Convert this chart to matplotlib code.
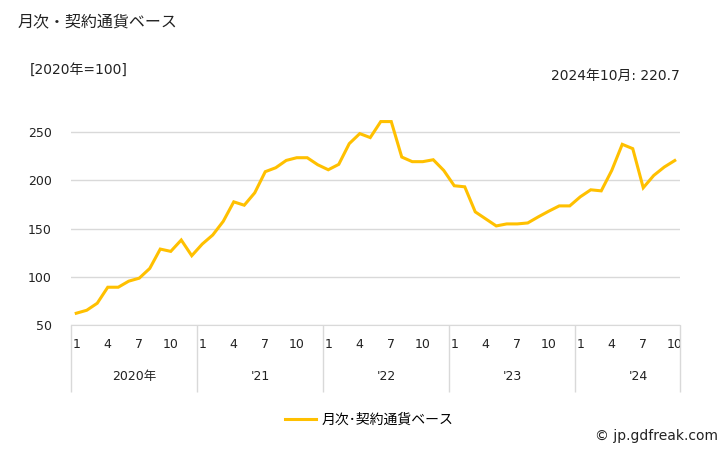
import matplotlib
matplotlib.use("Agg")
import matplotlib.pyplot as plt
import matplotlib.transforms as mtransforms

plt.rcParams['font.family'] = ['DejaVu Sans', 'Noto Sans CJK JP']

# monthly index, 2020=100 (Jan 2020 - Oct 2024)
values_2020 = [62.2, 65.3, 72.6, 89.2, 89.2, 95.5, 98.6, 108.7, 128.8, 126.4, 138.2, 121.9]
values_2021 = [134.0, 143.4, 157.6, 177.8, 174.3, 187.2, 209.1, 213.2, 220.8, 223.6, 223.6, 216.3]
values_2022 = [211.1, 216.7, 238.2, 248.6, 244.5, 261.1, 261.1, 224.3, 219.5, 219.5, 221.5, 210.4]
values_2023 = [194.5, 193.4, 167.4, 160.1, 152.8, 154.9, 154.9, 155.9, 162.2, 168.1, 173.6, 173.6]
values_2024 = [183.0, 190.3, 189.2, 210.4, 237.5, 233.0, 192.4, 205.2, 213.9, 220.7]

year_labels = ["2020年", "'21", "'22", "'23", "'24"]
month_labels = ["1", "4", "7", "10"]
yticks = [50, 100, 150, 200, 250]

series_name = "月次･契約通貨ベース"
title = "月次・契約通貨ベース"
unit_note = "[2020年=100]"
latest_note = "2024年10月: 220.7"

years = [values_2020, values_2021, values_2022, values_2023, values_2024]
values = []
for yv in years:
    values += yv
x = list(range(len(values)))

fig = plt.figure(figsize=(7.28, 4.5), dpi=100)
ax = fig.add_axes([71/728, 1-325/450, 609/728, 212/450])

gridc = '#d9d9d9'
ax.plot(x, values, color='#FFC000', lw=2.2, label=series_name, solid_joinstyle='miter')

ax.set_xlim(-0.5, len(values) - 0.5)
ax.set_ylim(50, 270)
ax.set_yticks(yticks)
ax.yaxis.grid(True, color=gridc, lw=1)
ax.set_axisbelow(True)
for s in ['top', 'right', 'left']:
    ax.spines[s].set_visible(False)
ax.spines['bottom'].set_color(gridc)
ax.tick_params(axis='y', length=0, pad=14, labelsize=9, labelcolor='#222222')

# month ticks
mt, ml = [], []
start = 0
for yv in years:
    for i, m in enumerate(month_labels):
        idx = start + int(m) - 1
        if idx < start + len(yv):
            mt.append(idx)
            ml.append(m)
    start += len(yv)
ax.set_xticks(mt)
ax.set_xticklabels(ml)
ax.tick_params(axis='x', which='major', length=0, pad=9, labelsize=9, labelcolor='#222222')

# year separators as long minor ticks
bounds = [-0.5]
centers = []
start = 0
for yv in years:
    centers.append(start + 5.5 if len(yv) == 12 else start + (len(yv) - 1) / 2 + 1)
    start += len(yv)
    bounds.append(start - 0.5)
ax.set_xticks(bounds, minor=True)
ax.tick_params(axis='x', which='minor', length=48, width=1, color=gridc)

trans = mtransforms.blended_transform_factory(ax.transData, ax.transAxes)
for c, lab in zip(centers, year_labels):
    ax.text(c, -0.245, lab, transform=trans, ha='center', va='center', fontsize=9, color='#222222')

fig.text(18/728, 1-22/450, title, ha='left', va='center', fontsize=11.5, color='#222222')
fig.text(30/728, 1-70/450, unit_note, ha='left', va='center', fontsize=10, color='#222222')
fig.text(680/728, 1-76/450, latest_note, ha='right', va='center', fontsize=10, color='#222222')
fig.text(718/728, 1-436/450, "© jp.gdfreak.com", ha='right', va='center', fontsize=10, color='#222222')

fig.legend(loc='center', bbox_to_anchor=(369/728, 1-420/450), frameon=False,
           fontsize=10, handlelength=2.2, handletextpad=0.4)

fig.savefig("out.png", dpi=100)
